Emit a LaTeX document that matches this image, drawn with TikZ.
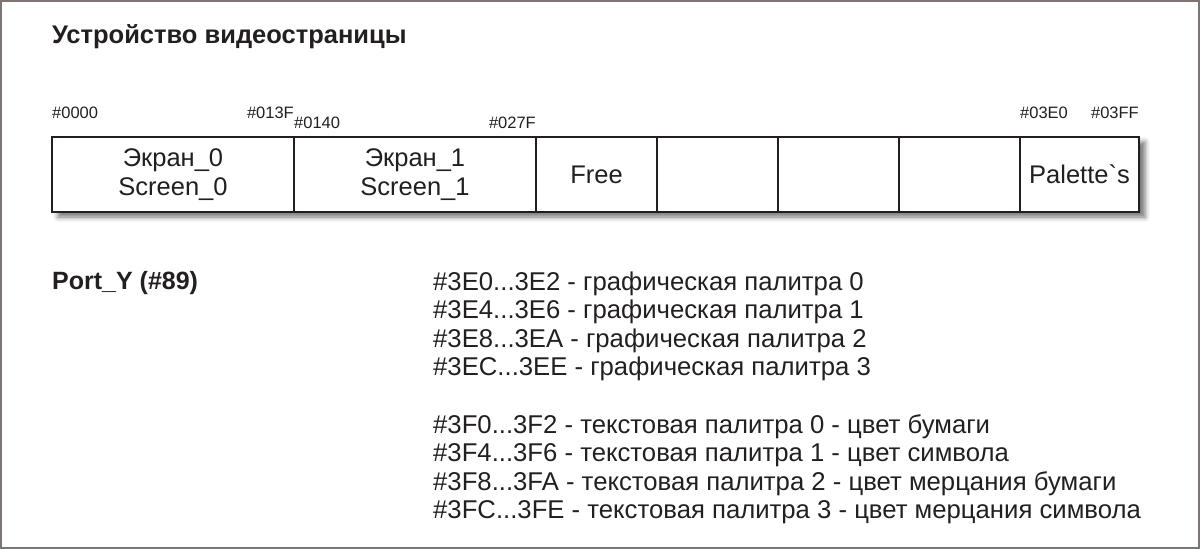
\documentclass[tikz,border=0pt]{standalone}
\usepackage{fontspec}
\setmainfont{Liberation Sans}
\newfontfamily\rawfont{Liberation Sans}
\usetikzlibrary{positioning,shadows.blur}
\definecolor{ink}{HTML}{231F20}
\definecolor{rim}{HTML}{7D7573}
\newcommand{\rdots}{...}
\tikzset{
  cell/.style={draw=ink, line width=1.8pt, minimum height=75pt, inner sep=0pt,
    outer sep=0pt, fill=white, align=center, text=ink,
    font=\rawfont\fontsize{25.5}{29}\selectfont},
  addr/.style={inner sep=0pt, text=ink, font=\fontsize{16.5}{18}\selectfont},
  plain/.style={inner sep=0pt, anchor=base west, text=ink,
    font=\fontsize{25.7}{29}\selectfont},
  head/.style={plain, font=\bfseries\fontsize{25.5}{28}\selectfont}
}

\begin{document}
\begin{tikzpicture}[x=1pt, y=-1pt]
    \useasboundingbox (0,0) rectangle (1200,549);
    \draw[rim, line width=2pt] (1,1) rectangle (1199,548);
    % title
    \node[head] (title) at (52,43) {Устройство видеостраницы};
    % video page
    \fill[white, blur shadow={shadow xshift=6pt, shadow yshift=-5pt,
      shadow blur radius=5pt, shadow opacity=55}] (52,137) rectangle (1139,212);
    \node[cell, minimum width=242pt, anchor=north west] (s0) at (52,137) {Экран\_0\\Screen\_0};
    \node[cell, minimum width=242pt, right=0pt of s0] (s1) {Экран\_1\\Screen\_1};
    \node[cell, minimum width=121pt, right=0pt of s1] (fr) {Free};
    \node[cell, minimum width=121pt, right=0pt of fr] (e1) {};
    \node[cell, minimum width=121pt, right=0pt of e1] (e2) {};
    \node[cell, minimum width=121pt, right=0pt of e2] (e3) {};
    \node[cell, minimum width=119pt, right=0pt of e3] (pal) {Palette`s};
    % addresses
    \node[addr, anchor=base west] (a0000) at ([yshift=19pt]s0.north west) {\#0000};
    \node[addr, anchor=base east] (a013F) at ([yshift=19pt]s0.north east) {\#013F};
    \node[addr, anchor=base west] (a0140) at ([yshift=9pt]s1.north west) {\#0140};
    \node[addr, anchor=base east] (a027F) at ([yshift=9pt]s1.north east) {\#027F};
    \node[addr, anchor=base west] (a03E0) at ([yshift=19pt]pal.north west) {\#03E0};
    \node[addr, anchor=base east] (a03FF) at ([yshift=19pt]pal.north east) {\#03FF};
    % port
    \node[head, font=\bfseries\fontsize{25}{29}\selectfont] (port) at (52,289) {Port\_Y (\#89)};
    \foreach \t [count=\i] in {\#3E0\rdots 3E2 - графическая палитра 0,
        \#3E4\rdots 3E6 - графическая палитра 1,
        \#3E8\rdots 3EA - графическая палитра 2,
        \#3EC\rdots 3EE - графическая палитра 3}
      \node[plain] (g\i) at (433,{290+(\i-1)*28.6}) {\t};
    \foreach \t [count=\i] in {\#3F0\rdots 3F2 - текстовая палитра 0 - цвет бумаги,
        \#3F4\rdots 3F6 - текстовая палитра 1 - цвет символа,
        \#3F8\rdots 3FA - текстовая палитра 2 - цвет мерцания бумаги,
        \#3FC\rdots 3FE - текстовая палитра 3 - цвет мерцания символа}
      \node[plain] (t\i) at (433,{290+(\i+4)*28.6}) {\t};
\end{tikzpicture}
\end{document}
